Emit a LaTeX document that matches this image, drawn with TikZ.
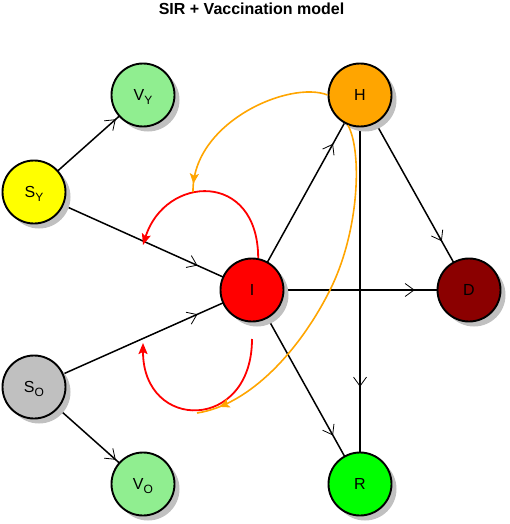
\documentclass[tikz,border=0pt]{standalone}
\usepackage{fontspec}
\setmainfont{Liberation Sans}
\usetikzlibrary{arrows.meta,shadows,backgrounds,decorations.markings}
\definecolor{shadowgray}{RGB}{192,192,192}
\definecolor{lgreen}{RGB}{144,238,144}
\definecolor{orangec}{RGB}{255,165,0}
\definecolor{darkredc}{RGB}{139,0,0}
\definecolor{limec}{RGB}{0,255,0}
\definecolor{silverc}{RGB}{192,192,192}
\definecolor{redc}{RGB}{255,0,0}
\definecolor{yellowc}{RGB}{255,255,0}
\newcommand{\subl}[1]{\raisebox{-4pt}[0pt][0pt]{\fontsize{12}{12}\selectfont #1}}
\tikzset{
  state/.style={circle, draw=black, line width=1.9pt, minimum size=63pt, inner sep=0pt,
    font=\fontsize{16}{16}\selectfont,
    drop shadow={shadow xshift=5pt, shadow yshift=-5pt, fill=shadowgray, opacity=1}},
  flow/.style={line width=1.5pt, postaction={decorate},
    decoration={markings, mark=at position 0.75 with {\arrow{Straight Barb[length=9pt,width=13pt,line width=0.8pt]}}}},
  redloop/.style={draw=redc, line width=1.8pt, -{Stealth[length=11pt,width=9pt,inset=2pt]}},
  orflow/.style={draw=orangec, line width=1.6pt, postaction={decorate},
    decoration={markings, mark=at position #1 with {\arrow{Stealth[length=10pt,width=9pt,inset=2pt,orangec]}}}},
  titlestyle/.style={font=\fontsize{16}{16}\selectfont\bfseries, anchor=base, inner sep=0pt}
}
\begin{document}
\begin{tikzpicture}[x=1pt,y=-1pt]
\useasboundingbox (0,0) rectangle (510,524);
\node[titlestyle] (title) at (251.5,14.5) {SIR + Vaccination model};
\node[state, fill=lgreen]   (VY) at (143,95)  {V\subl{Y}};
\node[state, fill=yellowc]  (SY) at (34,192)  {S\subl{Y}};
\node[state, fill=orangec]  (H)  at (360,95)  {H};
\node[state, fill=redc]     (I)  at (252,290) {I};
\node[state, fill=darkredc] (D)  at (469,290) {D};
\node[state, fill=silverc]  (SO) at (34,387)  {S\subl{O}};
\node[state, fill=lgreen]   (VO) at (143,484) {V\subl{O}};
\node[state, fill=limec]    (R)  at (360,484) {R};
\begin{scope}[on background layer]
  \draw[flow] (SY.center) -- (VY.center);
  \draw[flow] (SY.center) -- (I.center);
  \draw[flow] (SO.center) -- (I.center);
  \draw[flow] (SO.center) -- (VO.center);
  \draw[flow] (I.center) -- (H.center);
  \draw[flow] (I.center) -- (D.center);
  \draw[flow] (I.center) -- (R.center);
  \draw[flow] (H.center) -- (D.center);
  \draw[flow] (H.center) -- (R.center);
\end{scope}
\coordinate (upEnd) at (143,245);
\coordinate (loStart) at (252,339);
\coordinate (loEnd) at (143,343);
\coordinate (orUpEnd) at (193,192);
\coordinate (orMid) at (330,290);
\coordinate (orLoEnd) at (197,413);
\draw[redloop] (I.79) .. controls (258,170) and (165,175) .. (upEnd);
\draw[redloop] (loStart) .. controls (252,432) and (143,432) .. (loEnd);
\draw[orflow=0.955] (H.west) .. controls (290,80) and (192,122) .. (orUpEnd);
\draw[orflow=0.935] (H.248) .. controls (362,150) and (360,230) .. (orMid) .. controls (300,350) and (250,405) .. (orLoEnd);
\end{tikzpicture}
\end{document}
